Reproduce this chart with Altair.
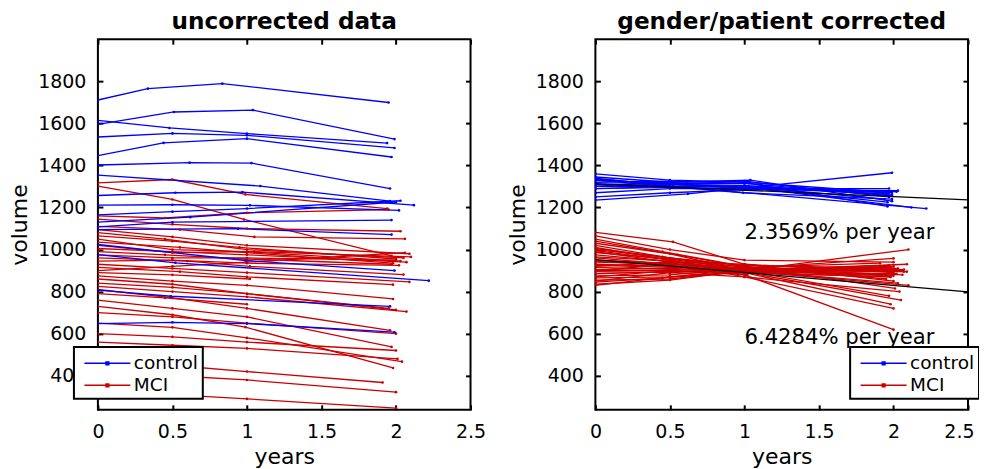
import altair as alt
import pandas as pd

# ---------------- data ----------------
x_ticks = [0, 0.5, 1, 1.5, 2, 2.5]
y_ticks = [400, 600, 800, 1000, 1200, 1400, 1600, 1800]
groups = ["control", "MCI"]
group_colors = ["#0000FF", "#CC0000"]

# left panel: uncorrected data, control subjects (years, volume)
lc_t = [
    [0, 0.335, 0.835, 1.95], [0, 0.51, 1.04, 1.99], [0, 0.48, 1.0, 1.94],
    [0, 0.5, 1.0, 1.99], [0, 0.44, 1.0, 1.97], [0, 0.615, 1.03, 1.96],
    [0, 1.09, 1.96], [0, 0.52, 0.97, 2.12], [0, 0.5, 1.02, 2.02],
    [0, 0.62, 2.0], [0, 0.5, 1.97], [0, 0.94, 1.97], [0, 0.99, 1.99],
    [0, 0.52, 2.22], [0, 0.49, 1.96], [0, 0.5, 1.0, 1.99], [0, 0.5, 1.0, 2.03],
]
lc_v = [
    [1711, 1765, 1789, 1699], [1595, 1654, 1663, 1525], [1614, 1578, 1551, 1506],
    [1535, 1552, 1543, 1483], [1446, 1507, 1527, 1440], [1402, 1413, 1411, 1290],
    [1354, 1302, 1230], [1257, 1270, 1273, 1211], [1211, 1213, 1210, 1186],
    [1130, 1154, 1226], [1108, 1130, 1140], [1095, 1099, 1071], [1024, 948, 900],
    [976, 937, 852], [807, 778, 730], [648, 654, 648, 607], [1165, 1180, 1195, 1232],
]

# left panel: uncorrected data, MCI subjects
lm_t = [
    [0, 0.5, 0.99, 1.94], [0, 0.5, 0.98, 1.97], [0, 0.45, 1.0, 1.95], [0, 0.5, 1.0, 2.03],
    [0, 0.55, 1.05, 2.06], [0, 0.5, 1.0, 2.09], [0, 0.45, 1.0, 2.05], [0, 0.5, 0.95, 2.0],
    [0, 0.5, 1.0, 2.03], [0, 0.55, 1.0, 1.98], [0, 0.5, 1.05, 2.1], [0, 0.5, 1.0, 2.07],
    [0, 0.45, 1.0, 1.97], [0, 0.5, 1.0, 2.0], [0, 0.6, 1.02, 2.05], [0, 0.5, 1.0, 2.02],
    [0, 0.5, 1.0, 2.09], [0, 0.55, 1.0, 1.98], [0, 0.5, 1.0, 2.06], [0, 0.5, 1.02],
    [0, 0.5, 1.0, 1.98], [0, 0.5, 1.0, 1.95], [0, 0.5, 1.0, 2.0], [0, 0.5, 1.0, 2.07],
    [0, 0.5, 1.0, 1.96], [0, 0.45, 1.0], [0, 0.5, 1.0, 1.97], [0, 0.5, 0.99, 1.98],
    [0, 0.5, 1.0, 2.0], [0, 0.5, 1.0, 2.04], [0, 0.5, 1.0, 2.0], [0, 0.5, 1.0, 2.01],
    [0, 0.5, 1.0, 1.91], [0, 0.5, 1.0, 2.0], [0, 0.5, 1.0, 2.0],
]
lm_v = [
    [1317, 1333, 1262, 1195], [1301, 1238, 1143, 970], [1160, 1150, 1175, 1190], [1145, 1120, 1100, 1087],
    [1110, 1095, 1060, 1051], [1095, 1060, 1020, 980], [1080, 1050, 1000, 960], [1065, 1040, 1010, 955],
    [1050, 1000, 990, 945], [1035, 1010, 985, 935], [1020, 985, 990, 965], [1005, 990, 975, 940],
    [990, 975, 955, 930], [975, 960, 960, 950], [960, 945, 920, 881], [945, 950, 935, 925],
    [930, 910, 890, 846], [915, 895, 870, 833], [900, 920, 940, 985], [890, 880, 860],
    [875, 850, 830, 765], [860, 835, 790, 720], [840, 820, 790, 713], [825, 800, 775, 705],
    [810, 770, 720, 616], [790, 770, 740], [760, 720, 680, 537], [730, 690, 631, 437],
    [700, 680, 650, 600], [650, 630, 580, 467], [600, 585, 560, 520], [560, 545, 530, 480],
    [470, 450, 420, 368], [420, 400, 380, 322], [340, 310, 290, 246],
]

# right panel: gender/patient corrected, control subjects
rc_t = [
    [0, 0.5, 1.0, 1.99], [0, 0.5, 1.04, 1.99], [0, 0.48, 1.0, 1.94], [0, 0.5, 1.0, 1.99],
    [0, 0.44, 1.0, 1.97], [0, 0.615, 1.03, 1.96], [0, 1.09, 1.96], [0, 0.52, 0.97, 2.12],
    [0, 0.5, 1.02, 2.02], [0, 0.62, 1.99], [0, 0.5, 1.97], [0, 0.94, 1.97],
    [0, 0.99, 1.99], [0, 0.52, 2.22], [0, 0.49, 1.96], [0, 0.5, 1.0, 1.99], [0, 0.5, 1.0, 2.03],
]
rc_v = [
    [1360, 1330, 1320, 1270], [1345, 1320, 1330, 1230], [1335, 1310, 1300, 1240], [1320, 1325, 1315, 1255],
    [1300, 1320, 1325, 1250], [1310, 1315, 1315, 1205], [1330, 1290, 1225], [1290, 1300, 1300, 1200],
    [1300, 1300, 1295, 1275], [1235, 1265, 1365], [1270, 1290, 1290], [1290, 1300, 1270],
    [1330, 1270, 1240], [1340, 1300, 1195], [1335, 1310, 1265], [1300, 1310, 1305, 1260], [1250, 1270, 1285, 1280],
]

# right panel: gender/patient corrected, MCI subjects
rm_t = [
    [0, 0.52, 1.0, 2.0], [0, 0.5, 1.0, 2.0], [0, 0.45, 1.0, 1.95], [0, 0.5, 1.0, 2.03],
    [0, 0.55, 1.05, 2.06], [0, 0.5, 1.0, 2.09], [0, 0.45, 1.0, 2.05], [0, 0.5, 0.95, 2.0],
    [0, 0.5, 1.0, 2.03], [0, 0.55, 1.0, 1.98], [0, 0.5, 1.05, 2.1], [0, 0.5, 1.0, 2.07],
    [0, 0.45, 1.0, 1.97], [0, 0.5, 1.0, 2.0], [0, 0.6, 1.02, 2.05], [0, 0.5, 1.0, 2.02],
    [0, 0.5, 1.0, 2.09], [0, 0.55, 1.0, 1.98], [0, 0.5, 1.0, 2.06], [0, 0.5, 1.02],
    [0, 0.5, 1.0, 1.98], [0, 0.5, 1.0, 1.95], [0, 0.5, 1.0, 2.0], [0, 0.5, 1.0, 2.07],
    [0, 0.5, 1.0, 2.1], [0, 0.45, 1.0], [0, 0.5, 1.0, 1.97], [0, 0.5, 0.99, 1.98],
    [0, 0.5, 1.0, 2.0], [0, 0.5, 1.0, 2.04], [0, 0.5, 1.0, 2.0], [0, 0.5, 1.0, 2.01],
    [0, 0.5, 1.0, 1.91], [0, 0.5, 1.0, 2.0], [0, 0.5, 1.0, 2.0],
]
rm_v = [
    [1082, 1037, 930, 890], [1065, 1000, 950, 940], [1050, 990, 920, 860], [1040, 980, 900, 840],
    [1030, 975, 910, 880], [1020, 960, 905, 895], [1005, 965, 915, 900], [995, 950, 900, 875],
    [985, 955, 905, 910], [975, 940, 890, 870], [965, 945, 895, 830], [960, 930, 910, 905],
    [950, 935, 900, 780], [945, 925, 905, 920], [940, 930, 890, 760], [930, 920, 895, 885],
    [925, 915, 900, 930], [915, 905, 890, 740], [905, 910, 895, 900], [900, 900, 880],
    [895, 890, 905, 915], [885, 895, 900, 880], [875, 880, 910, 958], [865, 870, 905, 895],
    [855, 860, 900, 1000], [845, 865, 895], [835, 855, 900, 925], [830, 870, 890, 870],
    [1010, 950, 880, 619], [990, 940, 870, 800], [920, 940, 930, 850], [900, 930, 920, 815],
    [870, 900, 915, 935], [1000, 960, 925, 910], [850, 890, 870, 720],
]

# regression lines in the corrected panel
reg_t = [0, 2.5]
reg_control_v = [1313, 1236]
reg_mci_v = [952, 799]

# annotations
ann_t = [1.0, 1.0]
ann_v = [1080, 578]
ann_text = ["2.3569% per year", "6.4284% per year"]

FONT = "DejaVu Sans"


def to_rows(ts, vs, group, prefix):
    rows = []
    for i, (tl, vl) in enumerate(zip(ts, vs)):
        for t, v in zip(tl, vl):
            rows.append({"id": f"{prefix}{i}", "group": group, "t": t, "v": v})
    return rows


left_df = pd.DataFrame(to_rows(lm_t, lm_v, "MCI", "lm") + to_rows(lc_t, lc_v, "control", "lc"))
right_df = pd.DataFrame(to_rows(rm_t, rm_v, "MCI", "rm") + to_rows(rc_t, rc_v, "control", "rc"))

reg_df = pd.DataFrame(
    [{"id": "rc", "t": t, "v": v} for t, v in zip(reg_t, reg_control_v)]
    + [{"id": "rm", "t": t, "v": v} for t, v in zip(reg_t, reg_mci_v)]
)
ann_df = pd.DataFrame({"t": ann_t, "v": ann_v, "label": ann_text})

xs = alt.Scale(domain=[0, 2.5], nice=False, zero=False)
ys = alt.Scale(domain=[238, 2000], nice=False, zero=False)

LEGEND_SYMBOL = "M-2,0L2,0M-0.12,-0.12L0.12,-0.12L0.12,0.12L-0.12,0.12Z"


def panel(df, title, legend_x, legend_y, flush, extra=None):
    x_axis_kw = dict(labelFlush=True, labelFlushOffset=6) if flush else dict(labelFlush=False)
    lines = alt.Chart(df).mark_line(
        strokeWidth=1.3, clip=True,
        point=alt.OverlayMarkDef(size=7, filled=True, opacity=1, clip=True),
    ).encode(
        x=alt.X("t:Q", scale=xs, axis=alt.Axis(
            orient="bottom", values=x_ticks, format="~g", offset=-5,
            title="years", labelPadding=13, titlePadding=5, **x_axis_kw)),
        y=alt.Y("v:Q", scale=ys, axis=alt.Axis(
            orient="left", values=y_ticks, format="d", offset=-5, labelFlush=False,
            title="volume", labelPadding=12, titlePadding=6)),
        color=alt.Color("group:N", scale=alt.Scale(domain=groups, range=group_colors),
                        legend=alt.Legend(orient="none", legendX=legend_x, legendY=legend_y,
                                          title=None)),
        detail="id:N",
    )
    ticks2 = alt.Chart(df).mark_point(opacity=0).encode(
        x=alt.X("t:Q", scale=xs, axis=alt.Axis(orient="top", values=x_ticks, labels=False,
                                               title=None, offset=-5)),
        y=alt.Y("v:Q", scale=ys, axis=alt.Axis(orient="right", values=y_ticks, labels=False,
                                               title=None, offset=-5)),
    )
    layers = [lines]
    if extra:
        layers += extra
    layers.append(ticks2)
    return alt.layer(*layers).resolve_axis(x="independent", y="independent").properties(
        width=373, height=371,
        title=alt.TitleParams(title, fontSize=23.2, fontWeight="bold", font=FONT, offset=4, color="black"),
    )


reg_layer = alt.Chart(reg_df).mark_line(color="black", strokeWidth=1.2, clip=True).encode(
    x=alt.X("t:Q", scale=xs, axis=None),
    y=alt.Y("v:Q", scale=ys, axis=None),
    detail="id:N",
)
ann_layer = alt.Chart(ann_df).mark_text(align="left", baseline="middle", fontSize=21.2, font=FONT,
                                         color="black").encode(
    x=alt.X("t:Q", scale=xs, axis=None),
    y=alt.Y("v:Q", scale=ys, axis=None),
    text="label:N",
)

left = panel(left_df, "uncorrected data", -24, 308, flush=False)
right = panel(right_df, "gender/patient corrected", 255, 308, flush=True,
              extra=[reg_layer, ann_layer])

chart = alt.hconcat(left, right, spacing=125, bounds="flush").resolve_scale(
    color="independent"
).configure_view(
    stroke="black", strokeWidth=2
).configure_axis(
    domain=False, grid=False, tickColor="black", tickWidth=2, tickSize=5,
    labelFont=FONT, labelFontSize=19, labelColor="black",
    titleFont=FONT, titleFontSize=22, titleFontWeight="normal", titleColor="black",
).configure_legend(
    labelFont=FONT, labelFontSize=18.5, labelColor="black",
    strokeColor="black", fillColor="white", strokeWidth=2, padding=4, cornerRadius=0,
    symbolType=LEGEND_SYMBOL, symbolSize=529, symbolStrokeWidth=1.5,
    symbolOffset=17, labelOffset=14, rowPadding=0,
).properties(padding={"left": -1, "top": 0, "bottom": 0, "right": -2})

chart.save("out.html", embed_options={"renderer": "svg", "actions": False})
